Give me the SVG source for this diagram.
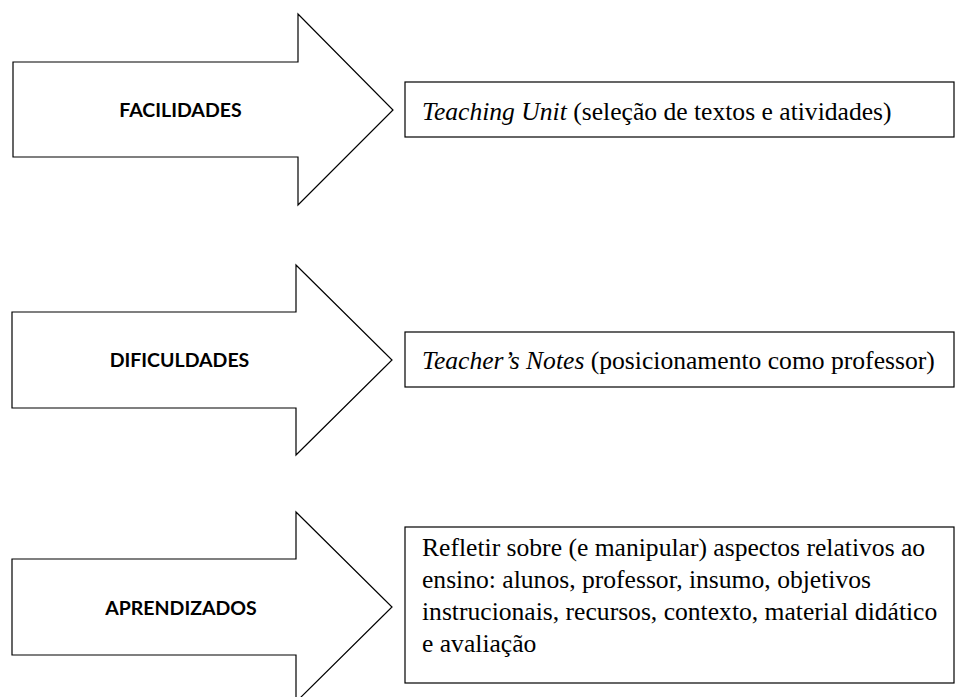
<svg xmlns="http://www.w3.org/2000/svg" width="955" height="697" viewBox="0 0 955 697">
<style>
.arrow{fill:#fff;stroke:#000;stroke-width:1.2}
.box{fill:#fff;stroke:#000;stroke-width:1.2}
.lbl{font-family:"Lato","Open Sans","Liberation Sans",sans-serif;font-weight:bold;font-size:19.5px;fill:#000;text-anchor:middle}
.txt{font-family:"Liberation Serif","Times New Roman",serif;font-size:25.6px;fill:#000}
.it{font-style:italic}
</style>
<rect width="955" height="697" fill="#fff"/>
<g id="node-facilidades">
<polygon class="arrow" points="13,62 298,62 298,14 393,110 298,205 298,157 13,157"/>
<text class="lbl" x="180.5" y="116.5">FACILIDADES</text>
</g>
<g id="node-teaching-unit">
<rect class="box" x="405" y="82" width="549" height="55"/>
<text class="txt" x="422" y="120"><tspan class="it">Teaching Unit</tspan> (seleção de textos e atividades)</text>
</g>
<g id="node-dificuldades">
<polygon class="arrow" points="12,312 296,312 296,265 392,360 296,455 296,408 12,408"/>
<text class="lbl" x="179.5" y="367">DIFICULDADES</text>
</g>
<g id="node-teachers-notes">
<rect class="box" x="405" y="332" width="549" height="55"/>
<text class="txt" x="422" y="369"><tspan class="it">Teacher’s Notes</tspan> (posicionamento como professor)</text>
</g>
<g id="node-aprendizados">
<polygon class="arrow" points="12,559 296,559 296,512 392,607 296,702 296,655 12,655"/>
<text class="lbl" x="181" y="615">APRENDIZADOS</text>
</g>
<g id="node-refletir">
<rect class="box" x="405" y="527" width="549" height="156"/>
<text class="txt" x="422" y="556">Refletir sobre (e manipular) aspectos relativos ao</text>
<text class="txt" x="422" y="588">ensino: alunos, professor, insumo, objetivos</text>
<text class="txt" x="422" y="620">instrucionais, recursos, contexto, material didático</text>
<text class="txt" x="422" y="652">e avaliação</text>
</g>
<g id="connectors"></g>
</svg>
